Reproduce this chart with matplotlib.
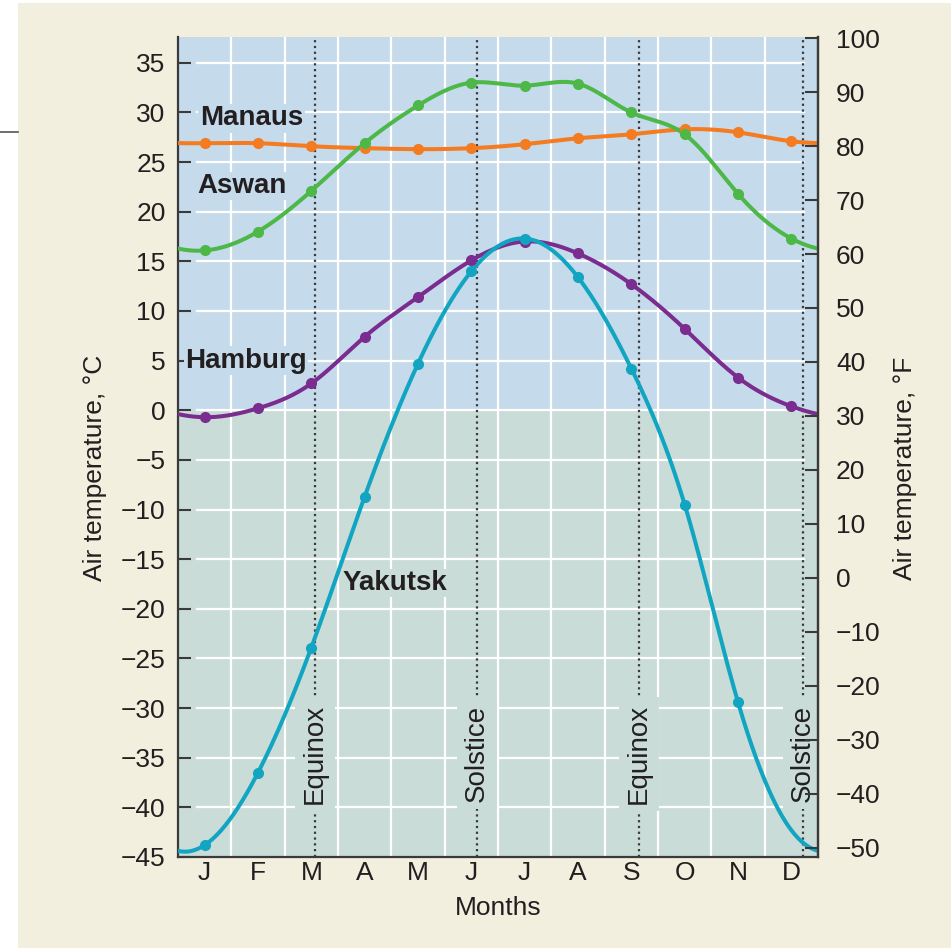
import matplotlib.pyplot as plt
import numpy as np
from matplotlib.lines import Line2D
from matplotlib.patches import Rectangle

plt.rcParams['font.family'] = ['Liberation Sans', 'DejaVu Sans']

# monthly mean air temperature, deg C
months = ['J', 'F', 'M', 'A', 'M', 'J', 'J', 'A', 'S', 'O', 'N', 'D']
manaus = [26.9, 26.9, 26.6, 26.4, 26.3, 26.4, 26.8, 27.4, 27.8, 28.3, 28.0, 27.1]
aswan = [16.1, 18.0, 22.1, 26.9, 30.7, 33.0, 32.7, 32.9, 30.0, 27.8, 21.8, 17.3]
hamburg = [-0.7, 0.2, 2.7, 7.4, 11.4, 15.1, 17.0, 15.8, 12.7, 8.2, 3.3, 0.4]
yakutsk = [-43.8, -36.5, -23.9, -8.7, 4.7, 14.0, 17.3, 13.4, 4.2, -9.5, -29.4, -42.3]

# equinox / solstice dates as fraction of the year in months
events = [2.57, 5.61, 8.64, 11.72]
event_names = ['Equinox', 'Solstice', 'Equinox', 'Solstice']

cream = '#f2efde'
warm = '#c5daeb'
cold = '#cadcd8'
ink = '#231f20'


def periodic_spline(y, t):
    # closed cubic spline through monthly values placed at mid-month
    y = np.asarray(y, float)
    n = len(y)
    A = 4 * np.eye(n) + np.roll(np.eye(n), 1, axis=1) + np.roll(np.eye(n), -1, axis=1)
    rhs = 6 * (np.roll(y, 1) - 2 * y + np.roll(y, -1))
    M = np.linalg.solve(A, rhs)
    u = np.mod(t - 0.5, n)
    i = np.floor(u).astype(int) % n
    f = u - np.floor(u)
    j = (i + 1) % n
    g = 1 - f
    return g * y[i] + f * y[j] + (g**3 - g) * M[i] / 6 + (f**3 - f) * M[j] / 6


fig = plt.figure(figsize=(9.51, 9.48), dpi=100)
fig.patch.set_facecolor('white')
fig.add_artist(Rectangle((18 / 951, 0), 1, 1 - 3 / 948, transform=fig.transFigure,
                         facecolor=cream, edgecolor='none', zorder=-10))
fig.add_artist(Line2D([0, 18 / 951], [1 - 132 / 948] * 2, transform=fig.transFigure,
                      color='#555555', lw=1.2))

ax = fig.add_axes([178 / 951, 1 - 857 / 948, 640 / 951, 820 / 948])
ax.set_xlim(0, 12)
ax.set_ylim(-45.0, 37.6)
ax.axhspan(0, 40, color=warm, zorder=0, lw=0)
ax.axhspan(-50, 0, color=cold, zorder=0, lw=0)

for x in range(1, 12):
    ax.axvline(x, color='white', lw=1.6, zorder=1)
for yv in range(-40, 36, 5):
    ax.axhline(yv, xmin=0.03, xmax=0.978, color='white', lw=1.6, zorder=1)

for x, name in zip(events, event_names):
    ax.axvline(x, color='#3a3a3a', lw=1.6, ls=(0, (1, 1.6)), zorder=2)
    ax.text(x, -34.6, name, rotation=90, ha='center', va='center', fontsize=20,
            color=ink, zorder=2.2, clip_on=True,
            bbox=dict(facecolor=cold, edgecolor='none', pad=5))

t = np.linspace(0, 12, 600)
xm = np.arange(12) + 0.5
series = [
    (manaus, '#f47b20', None),
    (aswan, '#4db848', None),
    (hamburg, '#7b2c8f', None),
    (yakutsk, '#12a5c2', list(range(11))),
]
for vals, col, every in series:
    ax.plot(t, periodic_spline(vals, t), color=col, lw=2.9, zorder=4, solid_capstyle='round')
    pts = list(range(12)) if every is None else every
    ax.plot(xm[pts], np.asarray(vals)[pts], 'o', color=col, ms=7, zorder=5)

labels = [('Manaus', 0.41, 29.4, warm), ('Aswan', 0.36, 22.6, warm),
          ('Hamburg', 0.13, 5.0, warm), ('Yakutsk', 3.09, -17.4, cold)]
for name, x, yv, bg in labels:
    ax.text(x, yv, name, ha='left', va='center', fontsize=20, fontweight='bold',
            color=ink, zorder=6, bbox=dict(facecolor=bg, edgecolor='none', pad=1))

ax.set_yticks(range(-45, 36, 5))
ax.set_xticks(xm)
ax.set_xticklabels(months)
ax.tick_params(axis='y', direction='in', length=9.5, width=1.5, color='#3a3a3a',
               labelsize=19, labelcolor=ink, pad=9)
ax.tick_params(axis='x', length=0, labelsize=19, labelcolor=ink, pad=3)
ax.set_xlabel('Months', fontsize=19, color=ink, labelpad=8)
for side in ['left', 'bottom', 'right']:
    ax.spines[side].set_color('#3a3a3a')
    ax.spines[side].set_linewidth(1.6)
ax.spines['top'].set_visible(False)

ax2 = ax.twinx()
ax2.set_ylim(-51.7, 100.2)
ax2.set_yticks(range(-50, 101, 10))
ax2.tick_params(axis='y', direction='in', length=9.5, width=1.5, color='#3a3a3a',
                labelsize=19, labelcolor=ink, pad=13)
for side in ['left', 'bottom', 'top']:
    ax2.spines[side].set_visible(False)
ax2.spines['right'].set_color('#3a3a3a')
ax2.spines['right'].set_linewidth(1.6)

fig.text(95 / 951, 1 - 468 / 948, 'Air temperature, °C', rotation=90,
         ha='center', va='center', fontsize=19, color=ink)
fig.text(905 / 951, 1 - 468 / 948, 'Air temperature, °F', rotation=90,
         ha='center', va='center', fontsize=19, color=ink)

fig.savefig('out.png', dpi=100, facecolor=fig.get_facecolor())
